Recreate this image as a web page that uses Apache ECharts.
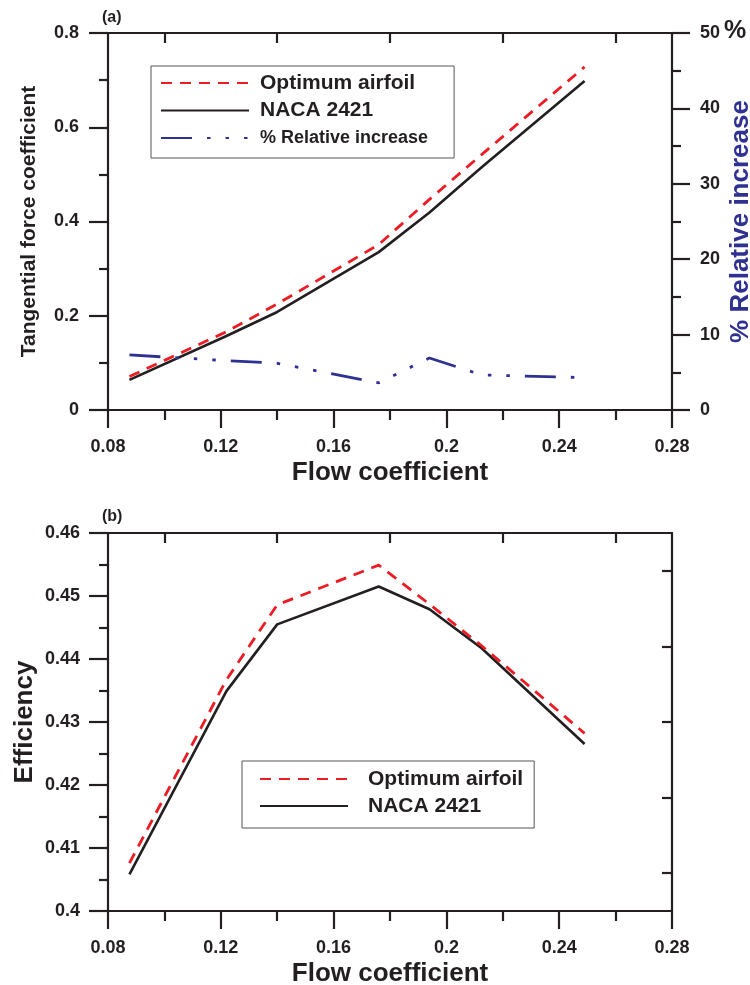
<!DOCTYPE html>
<html><head><meta charset="utf-8">
<script src="https://cdn.jsdelivr.net/npm/echarts@6/dist/echarts.min.js"></script>
<style>html,body{margin:0;padding:0;background:#fff}#c{width:750px;height:985px}</style>
</head><body><div id="c"></div>
<script>
// ---- data ----
const flowCoef = [0.0876, 0.122, 0.140, 0.176, 0.194, 0.2125, 0.249];
const tangOptimum = [0.071, 0.166, 0.225, 0.351, 0.447, 0.542, 0.728];
const tangNaca = [0.064, 0.157, 0.208, 0.335, 0.419, 0.515, 0.698];
const relIncrease = [7.3, 6.55, 6.2, 3.6, 6.9, 4.65, 4.3];
const effOptimum = [0.4076, 0.4367, 0.4486, 0.4549, 0.4487, 0.4421, 0.4282];
const effNaca = [0.4058, 0.4349, 0.4455, 0.4515, 0.4479, 0.4417, 0.4265];
const seriesNames = ['Optimum airfoil', 'NACA 2421', '% Relative increase'];
const topTickValues = [0.10, 0.14, 0.18, 0.22, 0.26];
const rightTickValues = [1, 3, 5, 7, 9];

const FONT = '"Liberation Sans", Arial, sans-serif';
const INK = '#231f20';
const RED = '#ed1c24';
const BLUE = '#2e3192';
const pair = (xs, ys) => xs.map((x, i) => [x, ys[i]]);

const lineW = { color: INK, width: 2.2 };
const labelStyle = { fontSize: 18, fontWeight: 'bold', color: INK, fontFamily: FONT };
const nameStyle = (size, color) => ({ fontSize: size, fontWeight: 'bold', color: color || INK, fontFamily: FONT });

function bottomX(grid) {
  return {
    gridIndex: grid, type: 'value', position: 'bottom', min: 0.08, max: 0.28, interval: 0.04,
    axisLine: { onZero: false, lineStyle: lineW },
    axisTick: { length: 18, lineStyle: lineW },
    minorTick: { show: true, splitNumber: 2, length: 10, lineStyle: lineW },
    axisLabel: Object.assign({ margin: 28 }, labelStyle),
    splitLine: { show: false }, minorSplitLine: { show: false },
    name: 'Flow coefficient', nameLocation: 'middle', nameGap: 50, nameTextStyle: nameStyle(26)
  };
}
function topX(grid) {
  return {
    gridIndex: grid, type: 'value', position: 'top', min: 0.08, max: 0.28,
    axisLine: { onZero: false, lineStyle: lineW },
    axisTick: { inside: true, length: 10, lineStyle: lineW, customValues: topTickValues },
    axisLabel: { show: false }, splitLine: { show: false }
  };
}
const legendText = { fontSize: 21, fontWeight: 'bold', color: INK, fontFamily: FONT, lineHeight: 22 };

const option = {
  animation: false,
  backgroundColor: '#fff',
  title: [
    { text: '(a)', left: 102, top: 10, padding: 0, textStyle: nameStyle(16) },
    { text: '(b)', left: 102, top: 509, padding: 0, textStyle: nameStyle(16) },
    { text: '%', left: 724, top: 19, padding: 0, textStyle: nameStyle(25) }
  ],
  grid: [
    { left: 108, top: 33, width: 564, height: 377, containLabel: false, outerBoundsMode: 'none' },
    { left: 108, top: 533, width: 564, height: 378, containLabel: false, outerBoundsMode: 'none' }
  ],
  legend: [
    {
      orient: 'vertical', left: 151, top: 66, padding: [6, 26, 9, 9],
      itemWidth: 88, itemHeight: 14, itemGap: 5.5,
      borderColor: '#555', borderWidth: 1, selectedMode: false,
      itemStyle: { opacity: 0 },
      textStyle: Object.assign({ padding: [0, 0, 0, 6] }, legendText),
      data: [
        { name: seriesNames[0] },
        { name: seriesNames[1] },
        { name: seriesNames[2], textStyle: Object.assign({}, legendText, { fontSize: 18, padding: [0, 0, 0, 6] }) }
      ]
    },
    {
      orient: 'vertical', left: 242, top: 761, padding: [7, 11, 11, 17],
      itemWidth: 88, itemHeight: 14, itemGap: 5,
      borderColor: '#555', borderWidth: 1, selectedMode: false,
      itemStyle: { opacity: 0 },
      textStyle: Object.assign({ padding: [0, 0, 0, 15] }, legendText),
      data: [{ name: seriesNames[0] }, { name: seriesNames[1] }]
    }
  ],
  xAxis: [bottomX(0), topX(0), bottomX(1), topX(1)],
  yAxis: [
    {
      gridIndex: 0, type: 'value', position: 'left', min: 0, max: 0.8, interval: 0.2,
      axisLine: { show: true, onZero: false, lineStyle: lineW },
      axisTick: { show: true, length: 19, lineStyle: lineW },
      minorTick: { show: true, splitNumber: 2, length: 9, lineStyle: lineW },
      axisLabel: Object.assign({ margin: 29 }, labelStyle),
      splitLine: { show: false },
      name: 'Tangential force coefficient', nameLocation: 'middle', nameRotate: 90, nameGap: 68,
      nameMoveOverlap: false,
      nameTextStyle: nameStyle(21)
    },
    {
      gridIndex: 0, type: 'value', position: 'right', min: 0, max: 50, interval: 10,
      axisLine: { show: true, onZero: false, lineStyle: lineW },
      axisTick: { show: true, length: 18, lineStyle: lineW },
      minorTick: { show: true, splitNumber: 2, length: 9, lineStyle: lineW },
      axisLabel: Object.assign({ margin: 28 }, labelStyle),
      splitLine: { show: false },
      name: '% Relative increase', nameLocation: 'middle', nameRotate: 90, nameGap: 56,
      nameMoveOverlap: false,
      nameTextStyle: nameStyle(26, BLUE)
    },
    {
      gridIndex: 1, type: 'value', position: 'left', min: 0.4, max: 0.46, interval: 0.01,
      axisLine: { show: true, onZero: false, lineStyle: lineW },
      axisTick: { show: true, length: 19, lineStyle: lineW },
      minorTick: { show: true, splitNumber: 2, length: 9, lineStyle: lineW },
      axisLabel: Object.assign({ margin: 28 }, labelStyle),
      splitLine: { show: false },
      name: 'Efficiency', nameLocation: 'middle', nameRotate: 90, nameGap: 70,
      nameMoveOverlap: false,
      nameTextStyle: nameStyle(26)
    },
    {
      gridIndex: 1, type: 'value', position: 'right', min: 0, max: 10,
      axisLine: { show: true, onZero: false, lineStyle: lineW },
      axisTick: { show: true, inside: true, length: 10, lineStyle: lineW, customValues: rightTickValues },
      axisLabel: { show: false }, splitLine: { show: false }
    }
  ],
  series: [
    {
      name: seriesNames[0], type: 'line', xAxisIndex: 0, yAxisIndex: 0, data: pair(flowCoef, tangOptimum),
      symbol: 'none', z: 4, itemStyle: { color: RED },
      lineStyle: { color: RED, width: 2.8, type: [11, 8] }
    },
    {
      name: seriesNames[1], type: 'line', xAxisIndex: 0, yAxisIndex: 0, data: pair(flowCoef, tangNaca),
      symbol: 'none', z: 3, itemStyle: { color: INK },
      lineStyle: { color: INK, width: 2.6, type: 'solid' }
    },
    {
      name: seriesNames[2], type: 'line', xAxisIndex: 0, yAxisIndex: 1, data: pair(flowCoef, relIncrease),
      symbol: 'none', z: 3, itemStyle: { color: BLUE },
      lineStyle: { color: BLUE, width: 2.8, type: [31, 15, 3.5, 15, 3.5, 15, 3.5, 15] }
    },
    {
      name: seriesNames[0], type: 'line', xAxisIndex: 2, yAxisIndex: 2, data: pair(flowCoef, effOptimum),
      symbol: 'none', z: 4, itemStyle: { color: RED },
      lineStyle: { color: RED, width: 2.8, type: [11, 8] }
    },
    {
      name: seriesNames[1], type: 'line', xAxisIndex: 2, yAxisIndex: 2, data: pair(flowCoef, effNaca),
      symbol: 'none', z: 3, itemStyle: { color: INK },
      lineStyle: { color: INK, width: 2.6, type: 'solid' }
    }
  ]
};
const chart = echarts.init(document.getElementById('c'), null, { renderer: 'canvas' });
chart.setOption(option);
</script></body></html>
